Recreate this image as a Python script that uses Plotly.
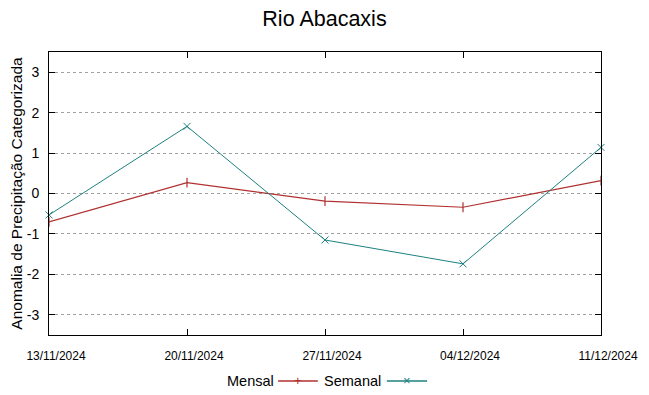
import plotly.graph_objects as go

dates = ["2024-11-13", "2024-11-20", "2024-11-27", "2024-12-04", "2024-12-11"]
tick_labels = ["13/11/2024", "20/11/2024", "27/11/2024", "04/12/2024", "11/12/2024"]
mensal = [-0.70, 0.27, -0.19, -0.34, 0.32]
semanal = [-0.53, 1.66, -1.15, -1.74, 1.14]
y_ticks = [-3, -2, -1, 0, 1, 2, 3]
y_tick_labels = ["-3", "-2", "-1", "0", "1", "2", "3"]

red = "#b03030"
teal = "#1f8080"
font = "Liberation Sans, Arial, sans-serif"

fig = go.Figure()
fig.add_trace(go.Scatter(x=dates, y=mensal, mode="lines+markers", name="Mensal",
                         line=dict(color=red, width=1.2),
                         marker=dict(symbol="line-ns", size=7, line=dict(color=red, width=1.2)),
                         showlegend=False, cliponaxis=False))
fig.add_trace(go.Scatter(x=dates, y=semanal, mode="lines+markers", name="Semanal",
                         line=dict(color=teal, width=1),
                         marker=dict(symbol="x-thin", size=7, line=dict(color=teal, width=1)),
                         showlegend=False, cliponaxis=False))

# custom legend (text then sample, gnuplot style)
ly = -0.1625
for name, col, x_text, x0, x1, sym in [("Mensal", red, 0.4112, 0.415, 0.487, "+"),
                                       ("Semanal", teal, 0.6050, 0.612, 0.685, "×")]:
    fig.add_annotation(x=x_text, y=ly, xref="paper", yref="paper", text=name, showarrow=False,
                       xanchor="right", yanchor="middle", font=dict(size=14.5, color="black", family=font))
    fig.add_shape(type="line", xref="paper", yref="paper", x0=x0, x1=x1, y0=ly, y1=ly,
                  line=dict(color=col, width=1.5))
    fig.add_annotation(x=(x0 + x1) / 2, y=ly, xref="paper", yref="paper", text=sym, showarrow=False,
                       xanchor="center", yanchor="middle", font=dict(size=13, color=col, family=font))

fig.update_layout(
    width=649, height=395,
    margin=dict(l=49, r=48, t=52, b=60, autoexpand=False),
    paper_bgcolor="white", plot_bgcolor="white",
    font=dict(family=font, color="black"),
    title=dict(text="Rio Abacaxis", x=0.5, xref="container", xanchor="center",
               y=0.952, yref="container", yanchor="middle", font=dict(size=21.5, family=font)),
)
fig.update_xaxes(type="date", range=[dates[0], dates[-1]], tickvals=dates, ticktext=tick_labels,
                 automargin=False,
                 showgrid=False, zeroline=False, showline=True, linecolor="black", linewidth=1,
                 mirror="ticks", ticks="inside", ticklen=6, tickcolor="black",
                 tickfont=dict(size=12, family=font), ticklabelstandoff=10, ticklabelshift=7)
fig.update_yaxes(range=[-3.5, 3.5], tickvals=y_ticks, ticktext=y_tick_labels, automargin=False,
                 showgrid=True, gridcolor="#a0a0a0",
                 griddash="dot", gridwidth=1, zeroline=False, showline=True, linecolor="black",
                 linewidth=1, mirror="ticks", ticks="inside", ticklen=6, tickcolor="black",
                 tickfont=dict(size=14, family=font), ticklabelstandoff=6,
                 title=dict(text="Anomalia de Precipitação Categorizada", standoff=0,
                            font=dict(size=15.5, family=font)))

fig.write_html("out.html", config={"displayModeBar": False},
               post_script="document.body.style.margin='0';document.body.style.overflow='hidden';")
